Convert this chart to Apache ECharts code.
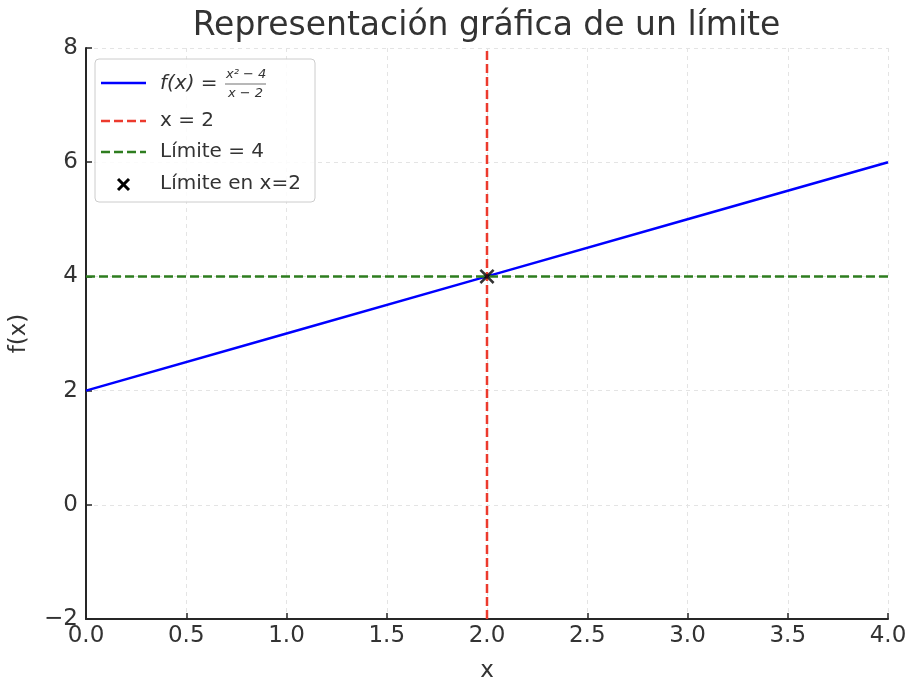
<!DOCTYPE html>
<html><head><meta charset="utf-8">
<script src="https://cdn.jsdelivr.net/npm/echarts@6/dist/echarts.min.js"></script>
<style>html,body{margin:0;padding:0;background:#fff}#c{width:918px;height:690px}</style>
</head><body><div id="c"></div>
<script>
const xTicks = [0, 0.5, 1, 1.5, 2, 2.5, 3, 3.5, 4];
const yTicks = [-2, 0, 2, 4, 6, 8];
const fxPoints = [[0, 2], [1, 3], [2, 4], [3, 5], [4, 6]];
const verticalLine = [[2, -2], [2, 8]];
const limitLine = [[0, 4], [4, 4]];
const limitPoint = [[2, 4]];

const FONT = 'DejaVu Sans';
const TXT = '#333333';
const AX = '#262626';
const chart = echarts.init(document.getElementById('c'));
const legendRows = [
  {y: 83, type: 'solid', color: '#0000ff'},
  {y: 121, type: 'dashed', color: '#ec3a2d'},
  {y: 152, type: 'dashed', color: '#2e7d1f'}
];
const g = [
  {type: 'rect', shape: {x: 95, y: 59, width: 220, height: 143, r: 4},
   style: {fill: 'rgba(255,255,255,0.85)', stroke: '#cccccc', lineWidth: 1}, z: 10}
];
legendRows.forEach(r => g.push({type: 'line', shape: {x1: 101, y1: r.y, x2: 146, y2: r.y},
  style: {stroke: r.color, lineWidth: 2.5, lineDash: r.type === 'dashed' ? [9, 4] : null}, z: 11}));
g.push({type: 'line', shape: {x1: 118, y1: 179, x2: 129, y2: 190}, style: {stroke: '#000', lineWidth: 3}, z: 11});
g.push({type: 'line', shape: {x1: 129, y1: 179, x2: 118, y2: 190}, style: {stroke: '#000', lineWidth: 3}, z: 11});
function txt(t, x, y, font, align) {
  g.push({type: 'text', x: x, y: y, style: {text: t, font: font, fill: TXT, textVerticalAlign: 'middle', textAlign: align || 'left'}, z: 11});
}
txt('Representación gráfica de un límite', 486.5, 26, '33px "DejaVu Sans"', 'center');
txt('f(x) =', 160, 84, 'italic 20px "DejaVu Sans"');
txt('x² − 4', 226, 75, 'italic 13px "DejaVu Sans"');
g.push({type: 'line', shape: {x1: 225, y1: 84, x2: 266, y2: 84}, style: {stroke: TXT, lineWidth: 0.7}, z: 11});
txt('x − 2', 228, 94, 'italic 13px "DejaVu Sans"');
txt('x = 2', 160, 121, '20px "DejaVu Sans"');
txt('Límite = 4', 160, 152, '20px "DejaVu Sans"');
txt('Límite en x=2', 160, 184, '20px "DejaVu Sans"');

chart.setOption({
  animation: false,
  grid: {left: 85, right: 30, top: 48, bottom: 71},
  xAxis: {type: 'value', min: 0, max: 4, interval: 0.5, name: 'x', nameLocation: 'middle', nameGap: 41,
    nameTextStyle: {fontFamily: FONT, fontSize: 23, color: TXT},
    axisLine: {onZero: false, lineStyle: {color: AX, width: 2}},
    axisTick: {show: true, inside: true, length: 6, lineStyle: {color: AX, width: 1.5}},
    axisLabel: {fontFamily: FONT, fontSize: 23, color: TXT, margin: 6, formatter: v => v.toFixed(1)},
    splitLine: {show: true, lineStyle: {color: '#e4e4e4', type: [4, 4], width: 1}}},
  yAxis: {type: 'value', min: -2, max: 8, interval: 2, name: 'f(x)', nameLocation: 'middle', nameGap: 55,
    nameTextStyle: {fontFamily: FONT, fontSize: 23, color: TXT},
    axisLine: {show: true, onZero: false, lineStyle: {color: AX, width: 2}},
    axisTick: {show: true, inside: true, length: 6, lineStyle: {color: AX, width: 1.5}},
    axisLabel: {fontFamily: FONT, fontSize: 23, color: TXT, margin: 8, formatter: v => String(v).replace('-', '−')},
    splitLine: {show: true, lineStyle: {color: '#e4e4e4', type: [4, 4], width: 1}}},
  series: [
    {type: 'line', data: fxPoints, showSymbol: false, lineStyle: {color: '#0000ff', width: 2.5}, z: 3},
    {type: 'line', data: verticalLine, showSymbol: false, lineStyle: {color: '#ec3a2d', width: 2.5, type: [9, 4]}, z: 4},
    {type: 'line', data: limitLine, showSymbol: false, lineStyle: {color: '#2e7d1f', width: 2.5, type: [9, 4]}, z: 4},
    {type: 'scatter', data: limitPoint, symbol: 'path://M0,1.2L1.2,0L5,3.8L8.8,0L10,1.2L6.2,5L10,8.8L8.8,10L5,6.2L1.2,10L0,8.8L3.8,5Z',
      symbolSize: 15, itemStyle: {color: '#000'}, z: 6}
  ],
  graphic: g
});
</script></body></html>
